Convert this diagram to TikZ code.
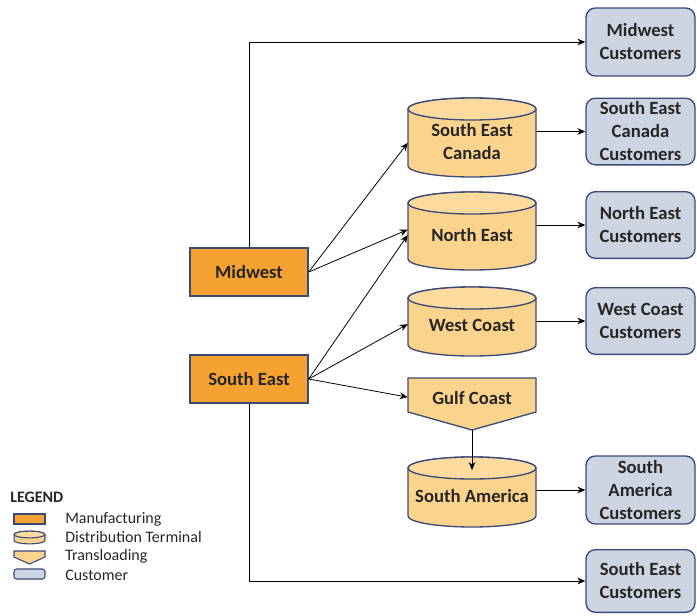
\documentclass[tikz,border=0pt]{standalone}
\usepackage{fontspec}
\setmainfont{Carlito}
\usetikzlibrary{calc,arrows.meta}
\definecolor{bord}{HTML}{3A4A78}
\definecolor{mfgfill}{HTML}{F5A233}
\definecolor{cylfill}{HTML}{FCD38C}
\definecolor{cyltopc}{HTML}{FDDA9E}
\definecolor{custfill}{HTML}{CDD5E3}
\definecolor{txt}{HTML}{262626}
\tikzset{
  lbl/.style={font=\fontsize{14}{17.25}\selectfont\bfseries, text=txt, align=center},
  mfg/.style={lbl, draw=bord, fill=mfgfill, line width=1pt, minimum width=88.5pt, minimum height=36pt},
  cust/.style={lbl, draw=bord, fill=custfill, line width=1pt, rounded corners=7pt, minimum width=81.75pt, inner sep=1pt},
  cylst/.style={draw=bord, fill=cylfill, line width=1pt},
  cyltop/.style={draw=bord, fill=cyltopc, line width=1pt},
  conn/.style={-{Stealth[length=6pt,width=5pt]}, line width=0.6pt, draw=black},
  legtxt/.style={font=\fontsize{12}{14}\selectfont, text=txt, anchor=west, inner sep=0pt},
}
\newcommand\cylnode[5]{%
  \coordinate (#1c) at (#2,#3);
  \pgfmathsetmacro\cylH{0.375*#4-8.25}%
  \filldraw[cylst] ($(#1c)+(-48pt,\cylH pt)$) -- ($(#1c)+(-48pt,-\cylH pt)$)
     arc[start angle=180,end angle=360,x radius=48pt,y radius=8.25pt]
     -- ($(#1c)+(48pt,\cylH pt)$)
     arc[start angle=0,end angle=180,x radius=48pt,y radius=8.25pt] -- cycle;
  \filldraw[cyltop] ($(#1c)+(0,\cylH pt)$) ellipse[x radius=48pt,y radius=8.25pt];
  \node[lbl, minimum width=96pt, minimum height=#4*0.75pt, inner sep=0pt] (#1) at ($(#1c)+(0,-3pt)$) {#5};
}
\begin{document}
\begin{tikzpicture}[x=0.75pt,y=-0.75pt]
\useasboundingbox (0,0) rectangle (697,615);

% manufacturing
\node[mfg] (mid) at (249,272) {Midwest};
\node[mfg] (se) at (249,379) {South East};

% distribution terminals
\cylnode{sec}{472}{137.5}{79}{South East\\Canada}
\cylnode{ne}{472}{231}{78}{North East}
\cylnode{wc}{472}{321.5}{69}{West Coast}
\cylnode{sa}{472}{492}{70}{South America}

% transloading
\filldraw[cylst] (408,378) -- (536,378) -- (536,412) -- (472,430) -- (408,412) -- cycle;
\node[lbl, minimum width=96pt, minimum height=25.5pt, inner sep=0pt] (gulf) at (472,398.5) {Gulf Coast};
\coordinate (gulftip) at (472,430);

% customers
\node[cust, minimum height=51pt] (c1) at (640.5,42) {Midwest\\Customers};
\node[cust, minimum height=50pt] (c2) at (640.5,131.5) {South East\\Canada\\Customers};
\node[cust, minimum height=50pt] (c3) at (640.5,225) {North East\\Customers};
\node[cust, minimum height=50pt] (c4) at (640.5,321) {West Coast\\Customers};
\node[cust, minimum height=51pt] (c5) at (640.5,490) {South\\America\\Customers};
\node[cust, minimum height=47pt] (c6) at (640.5,581) {South East\\Customers};

% connectors
\draw[conn] (mid.north) |- (c1.west);
\draw[conn] (se.south) |- (c6.west);
\draw[conn] (mid.east) -- ($(sec.west)+(0,-1pt)$);
\draw[conn] (mid.east) -- ($(ne.west)+(0,4pt)$);
\draw[conn] (se.east) -- ($(ne.west)+(0,0pt)$);
\draw[conn] (se.east) -- ($(wc.west)+(0,1pt)$);
\draw[conn] (se.east) -- ($(gulf.west)+(0,1pt)$);
\draw[conn] (gulftip) -- ($(sa.north)+(0,-7pt)$);
\draw[conn] (c2.west -| sec.east) -- (c2.west);
\draw[conn] (c3.west -| ne.east) -- (c3.west);
\draw[conn] (c4.west -| wc.east) -- (c4.west);
\draw[conn] (c5.west -| sa.east) -- (c5.west);

% legend
\node[legtxt, font=\fontsize{12}{14}\selectfont\bfseries] (leg) at (10,497) {LEGEND};
\filldraw[draw=bord, fill=mfgfill, line width=0.8pt] (14,514) rectangle (45,524);
\coordinate (m1) at (29.5,534.5);
\filldraw[draw=bord, fill=cylfill, line width=0.8pt] ($(m1)+(-11.6pt,0)$) -- ($(m1)+(-11.6pt,-4.5pt)$)
   arc[start angle=180,end angle=360,x radius=11.6pt,y radius=2.5pt]
   -- ($(m1)+(11.6pt,0)$) arc[start angle=0,end angle=180,x radius=11.6pt,y radius=2.5pt] -- cycle;
\filldraw[draw=bord, fill=cyltopc, line width=0.8pt] (m1) ellipse[x radius=11.6pt,y radius=2.5pt];
\filldraw[draw=bord, fill=cylfill, line width=0.8pt] (14,551) -- (45,551) -- (45,557) -- (29.5,564) -- (14,557) -- cycle;
\filldraw[draw=bord, fill=custfill, line width=0.8pt, rounded corners=2pt] (14,569) rectangle (45,579);
\node[legtxt] (l1) at (65,519) {Manufacturing};
\node[legtxt] (l2) at (65,537) {Distribution Terminal};
\node[legtxt] (l3) at (65,556) {Transloading};
\node[legtxt] (l4) at (65,575) {Customer};
\end{tikzpicture}
\end{document}
